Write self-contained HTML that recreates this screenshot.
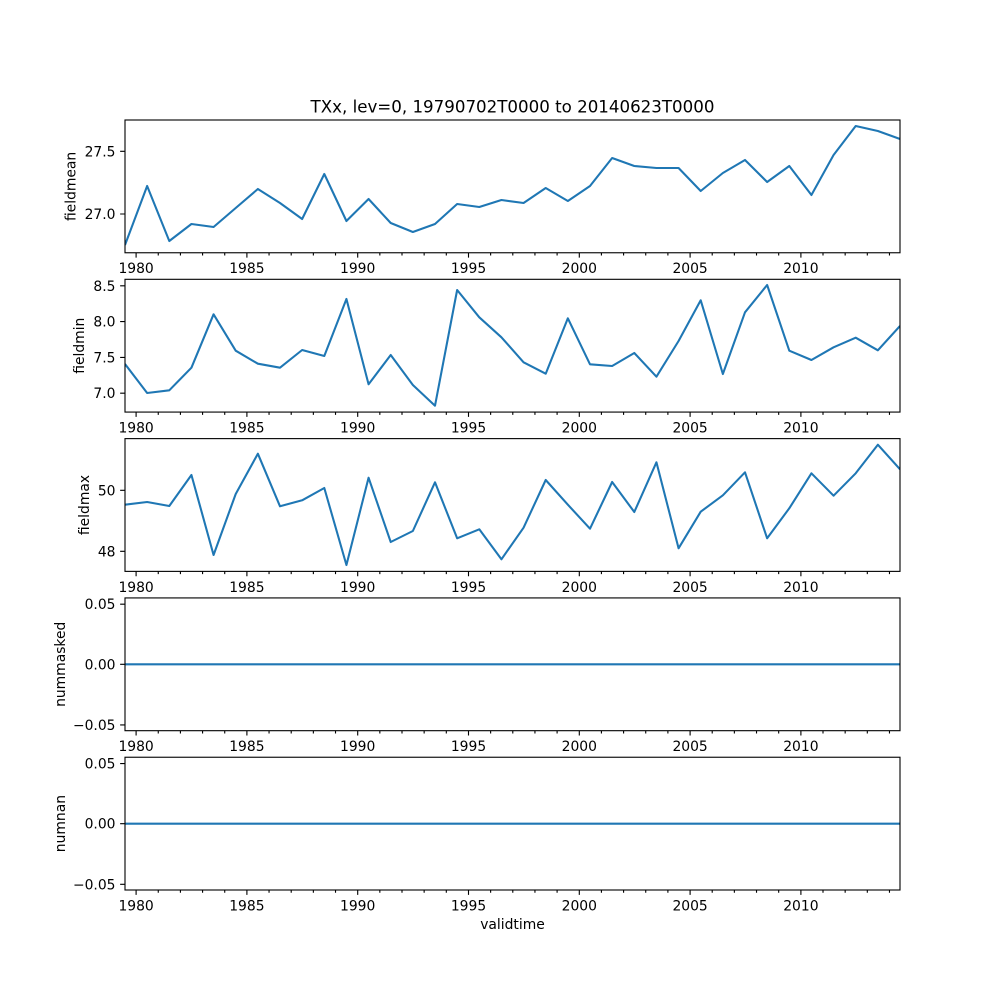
<!DOCTYPE html>
<html><head><meta charset="utf-8"><style>
html,body{margin:0;padding:0;background:#fff;}
svg{display:block;}
text{font-family:"DejaVu Sans","Liberation Sans",sans-serif;fill:#000;}
.tk{font-size:13.89px;}
</style></head><body>
<svg width="1000" height="1000" viewBox="0 0 1000 1000" xmlns="http://www.w3.org/2000/svg">
<rect width="1000" height="1000" fill="#fff"/>
<defs>
<g id="xt" stroke="#000" stroke-width="1.11" fill="none">
<path d="M136.1 0v4.86M246.9 0v4.86M357.7 0v4.86M468.5 0v4.86M579.3 0v4.86M690.1 0v4.86M800.9 0v4.86"/>
<path d="M158.26 0v2.78M180.42 0v2.78M202.57 0v2.78M224.73 0v2.78M269.05 0v2.78M291.21 0v2.78M313.36 0v2.78M335.52 0v2.78M379.84 0v2.78M402 0v2.78M424.15 0v2.78M446.31 0v2.78M490.63 0v2.78M512.79 0v2.78M534.94 0v2.78M557.1 0v2.78M601.42 0v2.78M623.58 0v2.78M645.73 0v2.78M667.89 0v2.78M712.21 0v2.78M734.37 0v2.78M756.52 0v2.78M778.68 0v2.78M823 0v2.78M845.16 0v2.78M867.31 0v2.78M889.47 0v2.78"/>
</g>
<clipPath id="c1"><rect x="125" y="120" width="775" height="132.76"/></clipPath>
<clipPath id="c2"><rect x="125" y="279.31" width="775" height="132.76"/></clipPath>
<clipPath id="c3"><rect x="125" y="438.62" width="775" height="132.76"/></clipPath>
</defs>

<!-- Title -->
<text x="512.5" y="112.5" text-anchor="middle" style="font-size:16.67px">TXx, lev=0, 19790702T0000 to 20140623T0000</text>

<!-- Panel 1 -->
<polyline clip-path="url(#c1)" fill="none" stroke="#1f77b4" stroke-width="2.08" stroke-linejoin="round" points="125,245 147.14,186 169.29,241 191.43,224 213.57,227 235.71,208 257.86,189 280,203 302.14,219 324.29,174 346.43,221 368.57,199 390.71,223 412.86,232 435,224 457.14,204 479.29,207 501.43,200 523.57,203 545.71,188 567.86,201 590,186 612.14,158 634.29,166 656.43,168 678.57,168 700.71,191 722.86,173 745,160 767.14,182 789.29,166 811.43,195 833.57,155 855.71,126 877.86,131 900,139"/>
<rect x="125" y="120" width="775" height="132.76" fill="none" stroke="#000" stroke-width="1.11"/>
<use href="#xt" y="252.76"/>
<path d="M120.14 151.3h4.86M120.14 214h4.86" stroke="#000" stroke-width="1.11"/>
<text class="tk" x="115.5" y="156.3" text-anchor="end">27.5</text>
<text class="tk" x="115.5" y="219" text-anchor="end">27.0</text>
<text class="tk" x="75.5" y="186.4" text-anchor="middle" transform="rotate(-90 75.5 186.4)">fieldmean</text>
<g class="tk" text-anchor="middle">
<text x="136.1" y="273.2">1980</text><text x="246.9" y="273.2">1985</text><text x="357.7" y="273.2">1990</text><text x="468.5" y="273.2">1995</text><text x="579.3" y="273.2">2000</text><text x="690.1" y="273.2">2005</text><text x="800.9" y="273.2">2010</text>
</g>

<!-- Panel 2 -->
<polyline clip-path="url(#c2)" fill="none" stroke="#1f77b4" stroke-width="2.08" stroke-linejoin="round" points="125,364 147.14,393 169.29,390.3 191.43,367.7 213.57,314.3 235.71,350.7 257.86,363.7 280,367.7 302.14,350 324.29,356 346.43,299 368.57,384.3 390.71,355 412.86,385 435,405.7 457.14,290 479.29,317.3 501.43,337.3 523.57,362.3 545.71,373.7 567.86,318.3 590,364.3 612.14,366 634.29,353 656.43,376.7 678.57,341 700.71,300.3 722.86,374 745,312.3 767.14,285 789.29,350.7 811.43,360 833.57,347.3 855.71,337.7 877.86,350.3 900,326"/>
<rect x="125" y="279.31" width="775" height="132.76" fill="none" stroke="#000" stroke-width="1.11"/>
<use href="#xt" y="412.07"/>
<path d="M120.14 285.8h4.86M120.14 321.6h4.86M120.14 357.4h4.86M120.14 393.2h4.86" stroke="#000" stroke-width="1.11"/>
<text class="tk" x="115.5" y="290.8" text-anchor="end">8.5</text>
<text class="tk" x="115.5" y="326.6" text-anchor="end">8.0</text>
<text class="tk" x="115.5" y="362.4" text-anchor="end">7.5</text>
<text class="tk" x="115.5" y="398.2" text-anchor="end">7.0</text>
<text class="tk" x="84" y="345.7" text-anchor="middle" transform="rotate(-90 84 345.7)">fieldmin</text>
<g class="tk" text-anchor="middle">
<text x="136.1" y="432.5">1980</text><text x="246.9" y="432.5">1985</text><text x="357.7" y="432.5">1990</text><text x="468.5" y="432.5">1995</text><text x="579.3" y="432.5">2000</text><text x="690.1" y="432.5">2005</text><text x="800.9" y="432.5">2010</text>
</g>

<!-- Panel 3 -->
<polyline clip-path="url(#c3)" fill="none" stroke="#1f77b4" stroke-width="2.08" stroke-linejoin="round" points="125,504.7 147.14,502 169.29,506 191.43,475 213.57,555 235.71,494 257.86,453.7 280,506.3 302.14,500.3 324.29,488 346.43,565 368.57,477.7 390.71,542 412.86,531 435,482.3 457.14,538.3 479.29,529.3 501.43,559.3 523.57,527.7 545.71,480 567.86,504.7 590,528.7 612.14,482 634.29,512 656.43,462.3 678.57,548.3 700.71,511.7 722.86,495.3 745,472.3 767.14,538.3 789.29,508.3 811.43,473.3 833.57,495.7 855.71,473.3 877.86,444.7 900,469.3"/>
<rect x="125" y="438.62" width="775" height="132.76" fill="none" stroke="#000" stroke-width="1.11"/>
<use href="#xt" y="571.38"/>
<path d="M120.14 490.3h4.86M120.14 551.3h4.86" stroke="#000" stroke-width="1.11"/>
<text class="tk" x="115.5" y="495.3" text-anchor="end">50</text>
<text class="tk" x="115.5" y="556.3" text-anchor="end">48</text>
<text class="tk" x="89" y="505" text-anchor="middle" transform="rotate(-90 89 505)">fieldmax</text>
<g class="tk" text-anchor="middle">
<text x="136.1" y="591.8">1980</text><text x="246.9" y="591.8">1985</text><text x="357.7" y="591.8">1990</text><text x="468.5" y="591.8">1995</text><text x="579.3" y="591.8">2000</text><text x="690.1" y="591.8">2005</text><text x="800.9" y="591.8">2010</text>
</g>

<!-- Panel 4 -->
<line x1="125" y1="664.3" x2="900" y2="664.3" stroke="#1f77b4" stroke-width="2.08"/>
<rect x="125" y="597.93" width="775" height="132.76" fill="none" stroke="#000" stroke-width="1.11"/>
<use href="#xt" y="730.69"/>
<path d="M120.14 604.2h4.86M120.14 664.3h4.86M120.14 724.9h4.86" stroke="#000" stroke-width="1.11"/>
<text class="tk" x="115.5" y="609.2" text-anchor="end">0.05</text>
<text class="tk" x="115.5" y="669.3" text-anchor="end">0.00</text>
<text class="tk" x="115.5" y="729.9" text-anchor="end">−0.05</text>
<text class="tk" x="65" y="664.3" text-anchor="middle" transform="rotate(-90 65 664.3)">nummasked</text>
<g class="tk" text-anchor="middle">
<text x="136.1" y="751.2">1980</text><text x="246.9" y="751.2">1985</text><text x="357.7" y="751.2">1990</text><text x="468.5" y="751.2">1995</text><text x="579.3" y="751.2">2000</text><text x="690.1" y="751.2">2005</text><text x="800.9" y="751.2">2010</text>
</g>

<!-- Panel 5 -->
<line x1="125" y1="823.7" x2="900" y2="823.7" stroke="#1f77b4" stroke-width="2.08"/>
<rect x="125" y="757.24" width="775" height="132.76" fill="none" stroke="#000" stroke-width="1.11"/>
<use href="#xt" y="890"/>
<path d="M120.14 763.6h4.86M120.14 823.7h4.86M120.14 884.3h4.86" stroke="#000" stroke-width="1.11"/>
<text class="tk" x="115.5" y="768.6" text-anchor="end">0.05</text>
<text class="tk" x="115.5" y="828.7" text-anchor="end">0.00</text>
<text class="tk" x="115.5" y="889.3" text-anchor="end">−0.05</text>
<text class="tk" x="65" y="823.6" text-anchor="middle" transform="rotate(-90 65 823.6)">numnan</text>
<g class="tk" text-anchor="middle">
<text x="136.1" y="910.6">1980</text><text x="246.9" y="910.6">1985</text><text x="357.7" y="910.6">1990</text><text x="468.5" y="910.6">1995</text><text x="579.3" y="910.6">2000</text><text x="690.1" y="910.6">2005</text><text x="800.9" y="910.6">2010</text>
</g>
<text class="tk" x="512.5" y="929" text-anchor="middle">validtime</text>
</svg>
</body></html>
